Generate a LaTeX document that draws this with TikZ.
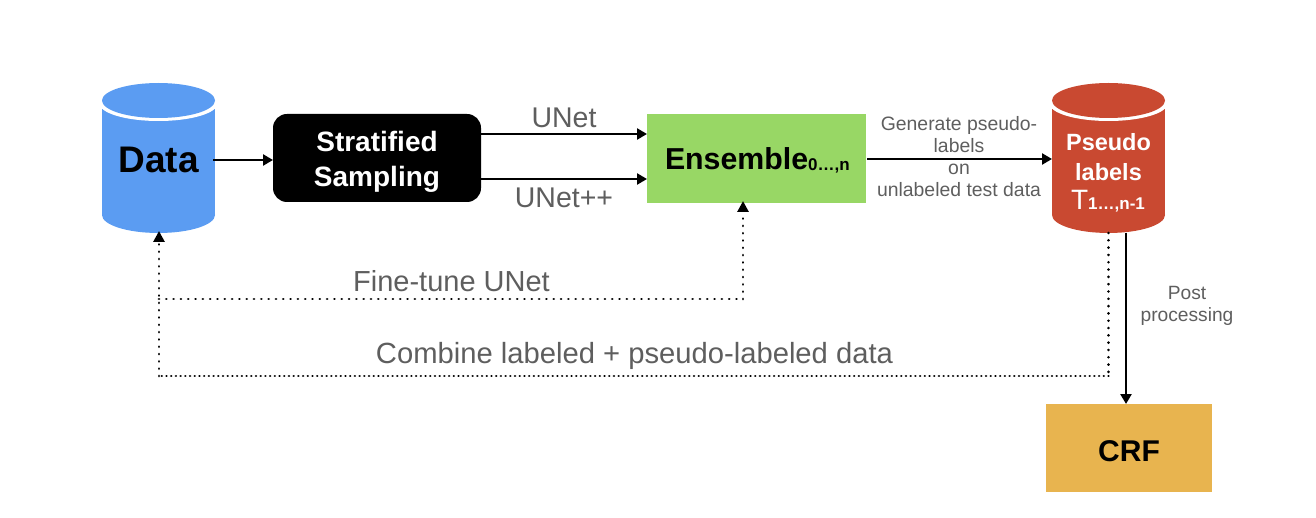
\documentclass[tikz,border=0pt]{standalone}
\usepackage{fontspec}
\setmainfont{Liberation Sans}
\usetikzlibrary{arrows.meta,calc}
\definecolor{bluec}{HTML}{5B9CF2}
\definecolor{redc}{HTML}{C94931}
\definecolor{greenc}{HTML}{98D765}
\definecolor{orangec}{HTML}{E8B44F}
\definecolor{txt}{HTML}{5E5E5E}
\newcommand{\fsz}[1]{\fontsize{#1}{#1}\selectfont}
\tikzset{
  x=1pt,y=-1pt,
  flow/.style={draw=black,line width=2.4pt,-{Triangle[length=10pt,width=11pt]}},
  dotline/.style={draw=black,line width=2.8pt,line cap=round,dash pattern=on 0.01pt off 7.3pt},
  dotdense/.style={draw=black,line width=2.6pt,line cap=round,dash pattern=on 0.01pt off 4.7pt},
  dotarrow/.style={dotline,-{Triangle[length=11pt,width=11pt,line cap=butt]}},
  holder/.style={inner sep=0pt,outer sep=0pt,minimum width=113pt,minimum height=150pt},
  boxnode/.style={inner sep=0pt,outer sep=0pt},
  graytext/.style={text=txt,inner sep=0pt,align=center},
}
\newcommand{\cyl}[3]{%
  \fill[#3] (#2-56.5,100) rectangle (#2+56.5,215);
  \fill[#3] (#2,215) ellipse [x radius=56.5,y radius=18];
  \fill[white] (#2,103.5) ellipse [x radius=59,y radius=17.5];
  \fill[#3] (#2,100.5) ellipse [x radius=56.5,y radius=17.5];
  \node[holder] (#1) at (#2,158) {};
}
\begin{document}
\begin{tikzpicture}
\useasboundingbox (0,0) rectangle (1316,518);
\cyl{data}{158.5}{bluec}
\cyl{pseudo}{1108.5}{redc}
\node[boxnode,fill=black,rounded corners=14pt,minimum width=208pt,minimum height=88pt] (strat) at (377,158) {};
\node[boxnode,fill=greenc,minimum width=219pt,minimum height=89pt] (ens) at (756.5,158.5) {};
\node[boxnode,fill=orangec,minimum width=166pt,minimum height=88pt] (crf) at (1129,448) {};
% box texts
\node[boxnode,font=\fsz{37}\bfseries] (dataT) at (158.5,160) {Data};
\node[boxnode,font=\fsz{28}\bfseries,text=white,anchor=base] (st1) at (377,152) {Stratified};
\node[boxnode,font=\fsz{28}\bfseries,text=white,anchor=base] (st2) at (377,187) {Sampling};
\node[boxnode,font=\fsz{30.3}\bfseries,anchor=base west] (ensT) at (665,170) {Ensemble\fsz{17}\raisebox{-1pt}{0…,n}};
\node[boxnode,font=\fsz{23.5}\bfseries,text=white,anchor=base] (p1) at (1108.5,151) {Pseudo};
\node[boxnode,font=\fsz{23.5}\bfseries,text=white,anchor=base] (p2) at (1108.5,181) {labels};
\node[boxnode,text=white,anchor=base] (p3) at (1108,210) {\fsz{28}T\fsz{17}\bfseries 1…,n-1};
\node[boxnode,font=\fsz{30}\bfseries,anchor=base] (crfT) at (1129,461) {CRF};
% labels
\node[graytext,font=\fsz{28.5},anchor=base] (l1) at (564,128) {UNet};
\node[graytext,font=\fsz{28.5},anchor=base] (l2) at (564,208) {UNet++};
\node[graytext,font=\fsz{29},anchor=base] (l3) at (451.5,292) {Fine-tune UNet};
\node[graytext,font=\fsz{29.2},anchor=base] (l4) at (634.5,363) {Combine labeled + pseudo-labeled data};
\node[graytext,font=\fsz{19.4},anchor=base] (g1) at (959,131) {Generate pseudo-};
\node[graytext,font=\fsz{19.4},anchor=base] (g2) at (959,153) {labels};
\node[graytext,font=\fsz{19.4},anchor=base] (g3) at (959,175) {on};
\node[graytext,font=\fsz{19.4},anchor=base] (g4) at (959,197) {unlabeled test data};
\node[graytext,font=\fsz{19.2},anchor=base] (q1) at (1187,300) {Post};
\node[graytext,font=\fsz{19.2},anchor=base] (q2) at (1187,322) {processing};
% routing points
\coordinate (dataOut) at (213,160);
\coordinate (stratIn) at (273,160);
\coordinate (s1) at (481,134);
\coordinate (e1) at (647,134);
\coordinate (s2) at (481,179);
\coordinate (e2) at (647,179);
\coordinate (eOut) at (867,159);
\coordinate (pIn) at (1052,159);
\coordinate (pOut) at (1126,233);
\coordinate (crfIn) at (1126,404);
\coordinate (dArr) at (159,231);
\coordinate (ftCorner) at (159,299);
\coordinate (ftTurn) at (743,299);
\coordinate (eArr) at (743,201);
\coordinate (cbStart) at (1108.5,233);
\coordinate (cbTurn) at (1108.5,376);
\coordinate (cbCorner) at (159,376);
% connectors
\draw[flow] (dataOut) -- (stratIn);
\draw[flow] (s1) -- (e1);
\draw[flow] (s2) -- (e2);
\draw[flow] (eOut) -- (pIn);
\draw[flow] (pOut) -- (crfIn);
\draw[dotline] (ftCorner) -- (ftTurn);
\draw[dotarrow] (ftTurn) -- (eArr);
\draw[dotline] (cbStart) -- (cbTurn);
\draw[dotdense] (cbTurn) -- (cbCorner);
\draw[dotarrow] (cbCorner) -- (dArr);
\end{tikzpicture}
\end{document}
